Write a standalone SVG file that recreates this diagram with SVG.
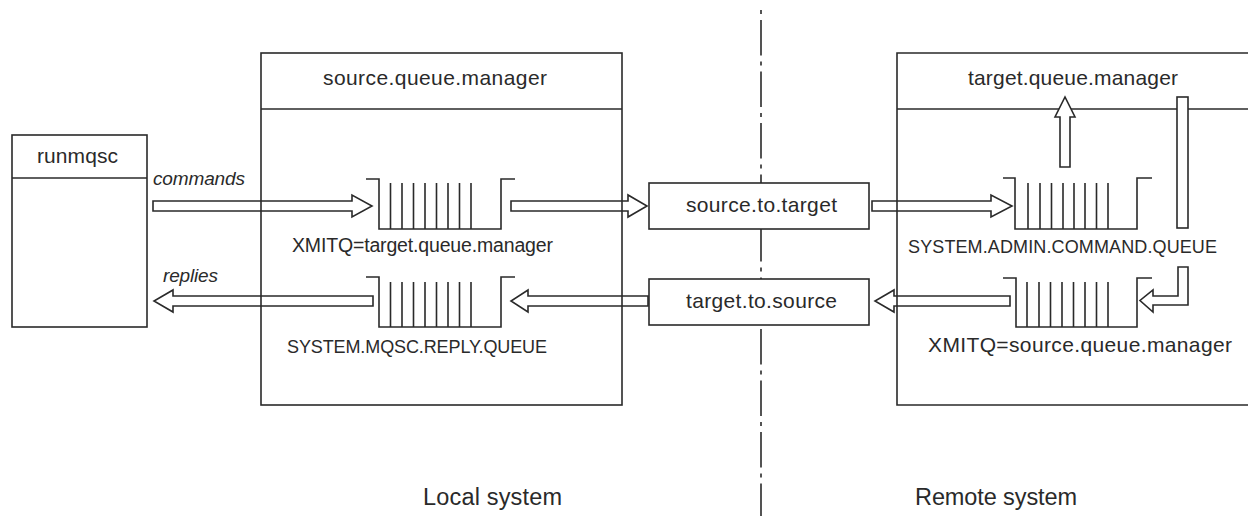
<svg xmlns="http://www.w3.org/2000/svg" width="1248" height="516" viewBox="0 0 1248 516">
<style>
  .ln{fill:none;stroke:#2a2a2a;stroke-width:1.6}
  .box{fill:#fff;stroke:#2a2a2a;stroke-width:1.6}
  .arr{fill:#fff;stroke:#2a2a2a;stroke-width:1.6;stroke-linejoin:miter}
  .bar{stroke:#2a2a2a;stroke-width:1.6}
  text{font-family:"Liberation Sans",Arial,sans-serif;fill:#2a2a2a}
  .lbl{font-size:21px}
  .cap{font-size:18px}
  .it{font-size:19px;font-style:italic}
  .big{font-size:23.5px}
  .div{fill:none;stroke:#2a2a2a;stroke-width:1.6;stroke-dasharray:4 6 35.5 6}
</style>

<!-- system divider -->
<line class="div" x1="761" y1="10" x2="761" y2="516"/>

<g id="connectors">
  <path id="a-commands" class="arr" d="M153,201 H352 V195 L372,206 L352,217 V211 H153 Z"/>
  <path id="a-q1-s2t" class="arr" d="M511,201 H628 V195 L647,206 L628,217 V211 H511 Z"/>
  <path id="a-s2t-admin" class="arr" d="M872,201 H991 V195 L1012,206 L991,217 V211 H872 Z"/>
  <path id="a-replies" class="arr" d="M373,296 H173 V290 L154,301 L173,312 V306 H373 Z"/>
  <path id="a-t2s-reply" class="arr" d="M648,296 H528 V290 L511,301 L528,312 V306 H648 Z"/>
  <path id="a-xmit-t2s" class="arr" d="M1010,296 H894 V290 L875,301 L894,312 V306 H1010 Z"/>
</g>

<g id="runmqsc">
  <rect class="ln" x="12" y="135" width="135" height="192"/>
  <line class="ln" x1="12" y1="178" x2="147" y2="178"/>
  <text class="lbl" x="37" y="163" textLength="81">runmqsc</text>
</g>
<text class="it" x="153" y="185" textLength="92">commands</text>
<text class="it" x="163" y="282" textLength="55">replies</text>

<g id="source-qm">
  <rect class="ln" x="261" y="53" width="361" height="352"/>
  <line class="ln" x1="261" y1="109" x2="622" y2="109"/>
  <text class="lbl" x="323" y="85" textLength="224">source.queue.manager</text>
</g>

<g id="xmitq-local">
  <path class="ln" d="M366,179 H379 V229 H501 V179 H515"/>
  <path class="bar" d="M390.5,183V229 M402,183V229 M413.5,183V229 M425,183V229 M436.5,183V229 M448,183V229 M459.5,183V229 M471,183V229"/>
  <text class="lbl" x="292" y="252" textLength="261" style="font-size:19.5px">XMITQ=target.queue.manager</text>
</g>

<g id="reply-queue">
  <path class="ln" d="M366,277 H379 V327 H501 V277 H515"/>
  <path class="bar" d="M390.5,282V327 M402,282V327 M413.5,282V327 M425,282V327 M436.5,282V327 M448,282V327 M459.5,282V327 M471,282V327"/>
  <text class="cap" x="287" y="353" textLength="260">SYSTEM.MQSC.REPLY.QUEUE</text>
</g>

<g id="source-to-target">
  <rect class="box" x="649" y="183" width="220" height="46"/>
  <text class="lbl" x="686" y="212" textLength="151">source.to.target</text>
</g>

<g id="target-to-source">
  <rect class="box" x="649" y="279" width="220" height="46"/>
  <text class="lbl" x="686" y="308" textLength="151">target.to.source</text>
</g>

<g id="target-qm">
  <path class="ln" d="M1252,53 H897 V405 H1252"/>
  <line class="ln" x1="897" y1="109" x2="1252" y2="109"/>
  <text class="lbl" x="968" y="85" textLength="210">target.queue.manager</text>
  <path id="a-up" class="arr" d="M1060,167 V117 H1055 L1065,97 L1075,117 H1070 V167 Z"/>
  <rect id="a-down" class="box" x="1177" y="97" width="11" height="131"/>
  <path id="a-turn" class="arr" d="M1178,267 H1188 V305 H1153 V312 L1140,300.5 L1153,290 V296 H1178 Z"/>
</g>

<g id="admin-queue">
  <path class="ln" d="M1003,178 H1015 V229 H1137 V178 H1152"/>
  <path class="bar" d="M1028,183V229 M1040,183V229 M1051.5,183V229 M1063,183V229 M1074,183V229 M1085,183V229 M1096.5,183V229 M1108,183V229"/>
  <text class="cap" x="908" y="253" textLength="309">SYSTEM.ADMIN.COMMAND.QUEUE</text>
</g>

<g id="xmitq-remote">
  <path class="ln" d="M1003,278 H1016 V327 H1137 V278 H1152"/>
  <path class="bar" d="M1027,282V327 M1039,282V327 M1050.5,282V327 M1062,282V327 M1073.5,282V327 M1085,282V327 M1096.5,282V327 M1108,282V327"/>
  <text class="lbl" x="928" y="352" textLength="304">XMITQ=source.queue.manager</text>
</g>

<text class="big" x="423" y="505" textLength="139">Local system</text>
<text class="big" x="915" y="505" textLength="162">Remote system</text>
</svg>
